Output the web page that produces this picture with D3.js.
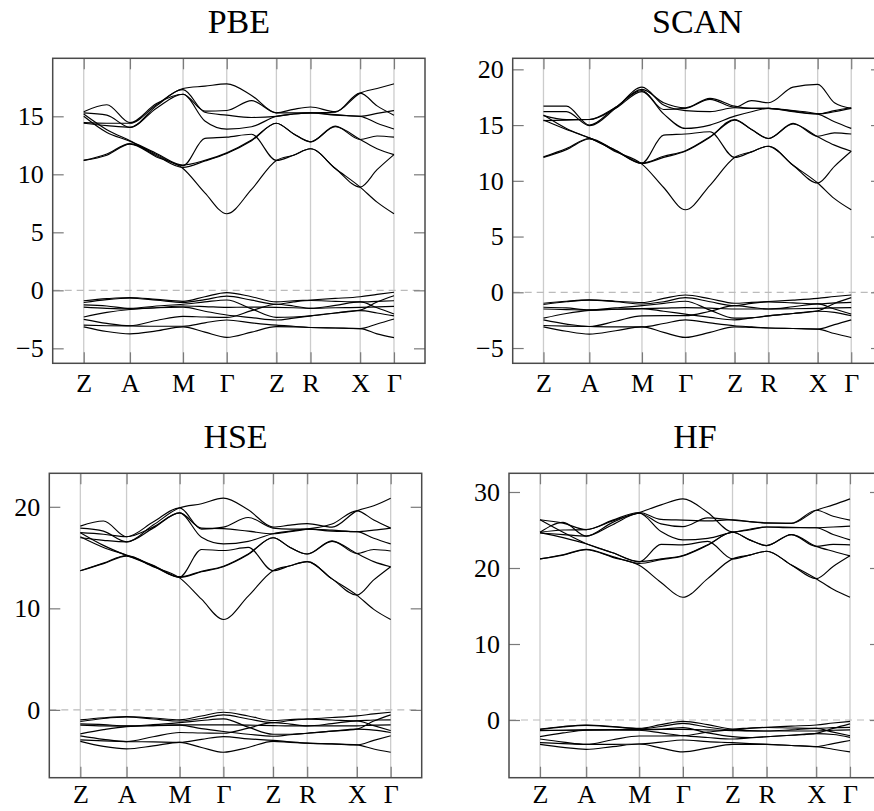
<!DOCTYPE html>
<html><head><meta charset="utf-8">
<script src="https://cdn.jsdelivr.net/npm/d3@7"></script>
<style>html,body{margin:0;padding:0;background:#fff;overflow:hidden}</style>
</head><body><svg id="c" width="874" height="811"></svg>
<script>
// High-symmetry path
const kPos = [0, 0.149, 0.320, 0.461, 0.621, 0.731, 0.891, 1.0];
const kLabels = ["Z","A","M","Γ","Z","R","X","Γ"];
// k positions where band energies were read
const kSample = [0, 0.0745, 0.149, 0.2345, 0.320, 0.3905, 0.461, 0.541, 0.621, 0.676, 0.731, 0.811, 0.891, 0.9455, 1.0];

const panelTitles = ["PBE","SCAN","HSE","HF"];
const pbeTicks = [-5,0,5,10,15];
const scanTicks = [-5,0,5,10,15,20];
const hseTicks = [0,10,20];
const hfTicks = [0,10,20,30];

// PBE
const pbeConduction = [
 [11.2,11.65,12.6,11.5,10.5,8.4,6.6,8.7,11.2,11.65,12.2,10.5,8.9,7.6,6.6],
 [11.2,11.75,12.65,11.6,10.6,11.15,11.8,12.9,14.4,13.5,12.8,14.1,13.0,12.2,11.7],
 [15.0,13.6,12.85,11.7,10.75,13.1,13.2,13.45,11.2,11.65,12.2,10.5,8.9,10.4,11.7],
 [15.2,13.85,12.9,11.8,10.8,11.2,11.85,12.95,14.4,13.5,12.8,14.15,13.0,13.3,13.2],
 [14.45,14.4,14.4,16.0,17.4,17.6,17.8,16.8,15.3,15.6,15.8,15.4,17.0,17.4,17.8],
 [15.4,16.0,14.45,16.1,16.9,15.45,15.5,16.35,15.3,15.3,15.3,15.15,15.0,15.25,15.5],
 [15.3,15.1,14.05,15.9,17.3,15.35,15.1,14.9,15.0,15.2,15.3,15.35,17.0,15.9,15.1],
 [14.4,14.2,14.05,15.7,16.9,14.6,13.9,14.1,15.0,15.2,15.3,15.1,15.0,14.4,13.9]
];
const pbeValence = [
 [-0.9,-0.72,-0.62,-0.78,-0.95,-0.55,-0.2,-0.55,-1.0,-0.9,-0.83,-0.7,-0.55,-0.35,-0.17],
 [-1.05,-0.8,-0.68,-0.85,-1.05,-0.8,-0.5,-0.85,-1.2,-1.0,-0.88,-0.95,-1.0,-0.95,-0.9],
 [-1.25,-1.35,-1.55,-1.35,-1.2,-1.0,-0.83,-1.6,-2.33,-2.3,-2.2,-1.95,-1.7,-1.0,-0.46],
 [-1.45,-1.55,-1.6,-1.5,-1.35,-1.4,-1.47,-1.45,-1.47,-1.5,-1.55,-1.5,-1.47,-1.42,-1.38],
 [-2.3,-1.9,-1.65,-1.5,-1.45,-1.8,-2.13,-2.35,-2.56,-2.4,-2.2,-1.95,-1.75,-1.95,-2.2],
 [-2.5,-2.85,-3.05,-2.6,-2.25,-2.3,-2.33,-1.75,-1.2,-1.35,-1.55,-1.3,-1.0,-1.5,-2.04],
 [-3.0,-3.05,-3.07,-3.1,-3.1,-2.8,-2.56,-2.8,-3.0,-3.1,-3.2,-3.25,-3.3,-2.9,-2.47],
 [-3.15,-3.55,-3.75,-3.5,-3.15,-3.6,-4.05,-3.6,-3.13,-3.15,-3.2,-3.25,-3.3,-3.75,-4.08]
];

// SCAN
const scanConduction = [
 [12.1,12.8,13.75,12.6,11.5,9.4,7.4,9.6,12.1,12.6,13.1,11.4,9.8,8.4,7.4],
 [12.15,12.9,13.8,12.7,11.55,12.1,12.65,13.9,15.45,14.6,13.8,15.1,13.95,13.2,12.65],
 [15.9,14.7,13.85,12.7,11.6,14.1,14.2,14.4,12.1,12.6,13.1,11.4,9.8,11.3,12.65],
 [15.45,14.6,13.85,12.75,11.6,12.2,12.7,13.95,15.5,14.6,13.8,15.15,14.0,14.3,14.2],
 [16.7,16.7,15.0,16.6,18.1,16.4,16.5,17.3,16.6,17.2,17.0,18.4,18.65,17.0,16.5],
 [16.2,16.2,14.95,16.5,18.4,16.8,16.3,16.2,16.55,16.5,16.5,16.2,16.0,16.2,16.5],
 [15.85,15.5,15.5,16.5,18.0,16.0,14.7,15.0,15.8,16.2,16.5,16.3,16.0,15.3,14.7],
 [15.4,15.45,15.5,16.6,18.2,17.0,16.55,17.4,16.7,16.5,16.5,16.25,16.0,16.3,16.55]
];
const scanValence = [
 [-0.98,-0.8,-0.68,-0.8,-0.92,-0.55,-0.24,-0.58,-0.98,-0.9,-0.83,-0.7,-0.54,-0.38,-0.24],
 [-1.1,-0.85,-0.7,-0.85,-1.05,-0.85,-0.48,-0.85,-1.2,-1.0,-0.86,-0.95,-1.04,-0.95,-0.9],
 [-1.34,-1.4,-1.58,-1.4,-1.2,-1.0,-0.8,-1.6,-2.32,-2.3,-2.11,-1.9,-1.67,-1.0,-0.48],
 [-1.5,-1.55,-1.6,-1.52,-1.46,-1.42,-1.37,-1.42,-1.5,-1.5,-1.5,-1.48,-1.44,-1.4,-1.37],
 [-2.32,-1.9,-1.62,-1.52,-1.46,-1.7,-1.96,-2.25,-2.47,-2.3,-2.11,-1.9,-1.7,-1.8,-2.1],
 [-2.47,-2.85,-3.07,-2.6,-2.11,-2.1,-2.1,-1.7,-1.2,-1.35,-1.5,-1.3,-1.04,-1.5,-1.96],
 [-2.98,-3.03,-3.07,-3.1,-3.1,-2.8,-2.47,-2.75,-3.0,-3.1,-3.2,-3.25,-3.3,-2.9,-2.47],
 [-3.1,-3.5,-3.75,-3.45,-3.1,-3.6,-4.05,-3.6,-3.1,-3.15,-3.2,-3.25,-3.3,-3.7,-4.05]
];

// HSE
const hseConduction = [
 [13.7,14.4,15.15,14.1,13.0,10.9,8.9,11.2,13.7,14.2,14.6,12.9,11.3,9.9,8.9],
 [13.7,14.45,15.2,14.15,13.05,13.6,14.1,15.3,16.95,16.0,15.35,16.6,15.4,14.6,14.1],
 [17.45,16.2,15.2,14.2,13.1,15.8,15.7,16.0,13.7,14.2,14.6,12.9,11.3,12.8,14.1],
 [17.05,16.0,15.25,14.25,13.1,13.65,14.15,15.35,16.95,16.0,15.35,16.65,15.4,15.8,15.65],
 [16.95,16.7,16.55,18.2,19.9,20.3,20.85,19.7,18.0,18.2,18.35,18.0,19.6,20.1,20.85],
 [18.1,18.6,17.05,18.5,19.9,17.8,18.0,18.95,17.9,17.8,17.8,17.7,17.55,17.7,17.9],
 [17.9,17.6,16.55,17.9,19.4,17.9,17.85,17.6,17.35,17.55,17.8,18.3,19.6,18.7,17.9],
 [17.45,17.3,17.05,18.0,19.4,17.0,16.35,16.6,17.35,17.6,17.8,17.6,17.55,16.9,16.35]
];
const hseValence = [
 [-0.99,-0.78,-0.66,-0.8,-0.98,-0.6,-0.23,-0.6,-1.05,-0.95,-0.89,-0.75,-0.59,-0.4,-0.23],
 [-1.15,-0.85,-0.7,-0.9,-1.1,-0.85,-0.49,-0.9,-1.25,-1.05,-0.92,-1.0,-1.08,-1.0,-0.98],
 [-1.38,-1.45,-1.58,-1.45,-1.25,-1.05,-0.89,-1.7,-2.4,-2.4,-2.3,-2.1,-1.9,-1.1,-0.49],
 [-1.5,-1.58,-1.6,-1.55,-1.48,-1.48,-1.48,-1.5,-1.55,-1.58,-1.58,-1.58,-1.58,-1.5,-1.48],
 [-2.36,-1.95,-1.65,-1.55,-1.5,-1.85,-2.13,-2.4,-2.6,-2.45,-2.3,-2.1,-1.9,-2.0,-2.23],
 [-2.56,-2.9,-3.12,-2.65,-2.23,-2.28,-2.3,-1.8,-1.25,-1.4,-1.58,-1.35,-1.08,-1.55,-2.04],
 [-2.96,-3.05,-3.12,-3.15,-3.2,-2.9,-2.63,-2.85,-3.0,-3.15,-3.28,-3.35,-3.45,-3.0,-2.56],
 [-3.1,-3.6,-3.84,-3.55,-3.2,-3.7,-4.17,-3.7,-3.1,-3.2,-3.28,-3.35,-3.45,-3.85,-4.17]
];

// HF
const hfConduction = [
 [21.2,21.7,22.4,21.4,20.35,18.1,16.15,18.6,21.2,21.7,22.2,20.4,18.6,17.2,16.15],
 [21.2,21.75,22.45,21.5,20.6,21.1,21.6,23.0,24.7,23.7,22.95,24.4,22.85,22.2,21.6],
 [26.35,24.7,23.2,22.0,20.8,23.1,23.05,23.5,21.2,21.7,22.2,20.4,18.6,20.2,21.6],
 [24.65,24.0,23.2,22.0,20.85,21.2,21.65,23.05,24.7,23.7,22.95,24.4,22.85,23.1,23.05],
 [24.7,25.0,25.05,26.2,27.3,28.3,29.1,27.3,24.75,25.1,25.4,25.35,25.3,25.4,25.5],
 [26.35,25.9,25.05,26.3,27.3,26.4,26.3,26.2,26.35,26.1,25.95,25.85,27.6,28.3,29.1],
 [24.7,26.0,24.2,26.0,27.2,25.8,25.45,26.6,26.3,26.1,25.9,25.9,27.6,26.8,26.3],
 [24.6,24.4,24.2,25.7,27.2,24.8,23.7,23.9,24.7,25.0,25.4,25.3,25.3,24.4,23.7]
];
const hfValence = [
 [-1.18,-0.85,-0.66,-0.85,-1.1,-0.6,-0.18,-0.6,-1.18,-1.05,-0.96,-0.8,-0.66,-0.4,-0.18],
 [-1.25,-0.9,-0.7,-0.9,-1.15,-0.85,-0.44,-0.95,-1.3,-1.1,-0.98,-1.05,-1.1,-1.0,-0.96],
 [-1.35,-1.35,-1.3,-1.25,-1.25,-1.2,-1.0,-1.7,-2.19,-2.3,-2.2,-2.0,-1.75,-1.1,-0.5],
 [-1.4,-1.35,-1.3,-1.3,-1.3,-1.25,-1.23,-1.3,-1.4,-1.45,-1.45,-1.45,-1.45,-1.35,-1.3],
 [-2.19,-1.7,-1.35,-1.3,-1.35,-1.7,-2.06,-2.3,-2.5,-2.35,-2.2,-2.0,-1.8,-1.9,-2.28],
 [-2.5,-2.9,-3.2,-2.6,-2.1,-2.1,-2.06,-1.6,-1.3,-1.4,-1.45,-1.3,-1.1,-1.6,-2.06],
 [-2.98,-3.1,-3.2,-3.2,-3.16,-2.9,-2.63,-2.85,-2.98,-3.1,-3.2,-3.35,-3.5,-3.1,-2.7],
 [-3.2,-3.6,-3.86,-3.5,-3.16,-3.7,-4.2,-3.7,-3.2,-3.2,-3.2,-3.35,-3.5,-3.85,-4.2]
];

const svg = d3.select("#c");
const FONT = "'Liberation Serif', 'DejaVu Serif', serif";

const panels = [
 {title: panelTitles[0], bands: pbeConduction.concat(pbeValence), ticks: pbeTicks,
  left: 52.7, right: 425, top: 58.3, bottom: 363.3, yDomain: [-6.29, 20.0], titleY: 33, labPad: 10},
 {title: panelTitles[1], bands: scanConduction.concat(scanValence), ticks: scanTicks,
  left: 512.7, right: 882, top: 58.3, bottom: 363.3, yDomain: [-6.37, 20.99], titleY: 33, labPad: 10},
 {title: panelTitles[2], bands: hseConduction.concat(hseValence), ticks: hseTicks,
  left: 49.3, right: 421.7, top: 473.3, bottom: 777.7, yDomain: [-6.68, 23.3], titleY: 447.5, labPad: 7},
 {title: panelTitles[3], bands: hfConduction.concat(hfValence), ticks: hfTicks,
  left: 509, right: 881, top: 473.3, bottom: 777.7, yDomain: [-7.59, 32.46], titleY: 447.5, labPad: 7}
];

function styleAxis(g, showText){
  g.select(".domain").remove();
  g.selectAll(".tick line").attr("stroke", "#7a7a7a").attr("stroke-width", 1.2);
  g.attr("font-family", FONT).attr("font-size", 26);
  g.selectAll(".tick text").attr("fill", "#000");
  if(!showText) g.selectAll(".tick text").remove();
}

panels.forEach(p => {
  const g = svg.append("g");
  const x = d3.scaleLinear().domain([-0.1, 1.1]).range([p.left, p.right]);
  const y = d3.scaleLinear().domain(p.yDomain).range([p.bottom, p.top]);

  // vertical grid at high-symmetry points
  g.append("g").selectAll("line").data(kPos).join("line")
    .attr("x1", d => x(d)).attr("x2", d => x(d))
    .attr("y1", p.top).attr("y2", p.bottom)
    .attr("stroke", "#cccccc").attr("stroke-width", 1.3);

  // Fermi level
  g.append("line")
    .attr("x1", p.left).attr("x2", p.right)
    .attr("y1", y(0)).attr("y2", y(0))
    .attr("stroke", "#bbbbbb").attr("stroke-width", 1.2)
    .attr("stroke-dasharray", "7,5");

  // bands
  const line = d3.line()
    .x((d, i) => x(kSample[i]))
    .y(d => y(d))
    .curve(d3.curveMonotoneX);
  g.append("g").selectAll("path").data(p.bands).join("path")
    .attr("d", line).attr("fill", "none")
    .attr("stroke", "#000").attr("stroke-width", 1.15);

  // axes (ticks pointing inwards)
  const ax = g.append("g").attr("transform", `translate(${p.left},0)`)
    .call(d3.axisLeft(y).tickValues(p.ticks).tickSizeInner(-11).tickSizeOuter(0).tickPadding(9));
  styleAxis(ax, true);
  const axR = g.append("g").attr("transform", `translate(${p.right},0)`)
    .call(d3.axisRight(y).tickValues(p.ticks).tickSizeInner(-11).tickSizeOuter(0));
  styleAxis(axR, false);
  const axB = g.append("g").attr("transform", `translate(0,${p.bottom})`)
    .call(d3.axisBottom(x).tickValues(kPos).tickSizeInner(-11).tickSizeOuter(0).tickPadding(p.labPad)
      .tickFormat((d, i) => kLabels[i]));
  styleAxis(axB, true);
  const axT = g.append("g").attr("transform", `translate(0,${p.top})`)
    .call(d3.axisTop(x).tickValues(kPos).tickSizeInner(-11).tickSizeOuter(0));
  styleAxis(axT, false);

  // frame
  g.append("rect")
    .attr("x", p.left).attr("y", p.top)
    .attr("width", p.right - p.left).attr("height", p.bottom - p.top)
    .attr("fill", "none").attr("stroke", "#4a4a4a").attr("stroke-width", 1.5);

  // title
  g.append("text")
    .attr("x", (p.left + p.right) / 2).attr("y", p.titleY)
    .attr("text-anchor", "middle")
    .attr("font-family", FONT).attr("font-size", 34)
    .text(p.title);
});
</script>
</body></html>
